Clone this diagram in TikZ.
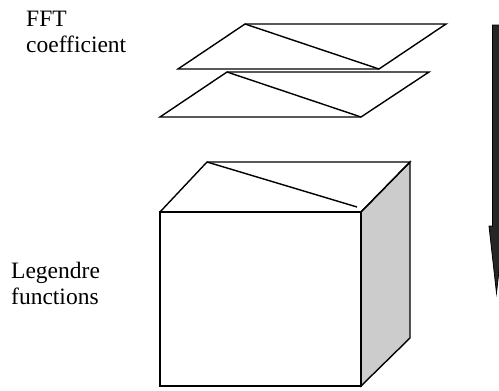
\documentclass[tikz,border=0pt]{standalone}
\usepackage{fontspec}
\setmainfont{Liberation Serif}
\begin{document}
\begin{tikzpicture}[x=1pt,y=-1pt,
  edge/.style={line width=1.4pt, line join=miter},
  label/.style={anchor=base west, inner sep=0pt, font=\fontsize{23.5}{26}\selectfont},
  sideface/.style={fill=black!20},
  bigarrow/.style={fill=black!85, draw=black, line width=0.8pt}]
\useasboundingbox (0,0) rectangle (499,391);
\clip (0,0) rectangle (499,391);

% labels
\node[label] (fft1) at (26,26) {FFT};
\node[label] (fft2) at (26,52) {coefficient};
\node[label] (leg1) at (11,278) {Legendre};
\node[label] (leg2) at (11,304) {functions};

% upper coefficient plane
\coordinate (pa1) at (245,24);
\coordinate (pa2) at (446,24);
\coordinate (pa3) at (379,69);
\coordinate (pa4) at (178,69);
\draw[edge] (pa1) -- (pa2) -- (pa3) -- (pa4) -- cycle;
\draw[edge] (pa1) -- (pa3);

% lower coefficient plane
\coordinate (pb1) at (227,72);
\coordinate (pb2) at (429,72);
\coordinate (pb3) at (361,117);
\coordinate (pb4) at (160,117);
\draw[edge] (pb1) -- (pb2) -- (pb3) -- (pb4) -- cycle;
\draw[edge] (pb1) -- (pb3);

% cube
\coordinate (cfl) at (160,212);
\coordinate (cfr) at (361,212);
\coordinate (cbl) at (207,162);
\coordinate (cbr) at (410,162);
\coordinate (cdl) at (160,386);
\coordinate (cdr) at (361,386);
\coordinate (cdb) at (410,338);
\coordinate (cdiag) at (357,207);
\draw[edge, sideface] (cfr) -- (cbr) -- (cdb) -- (cdr) -- cycle;
\draw[edge, fill=white] (cfl) rectangle (cdr);
\draw[edge] (cfl) -- (cbl) -- (cbr) -- (cfr);
\draw[edge] (cbl) -- (cdiag);

% block arrow at the right
\draw[bigarrow] (492.5,25) -- (500.5,25) -- (500.5,226) -- (504,226)
  -- (496.5,293) -- (489,226) -- (492.5,226) -- cycle;
\end{tikzpicture}
\end{document}
